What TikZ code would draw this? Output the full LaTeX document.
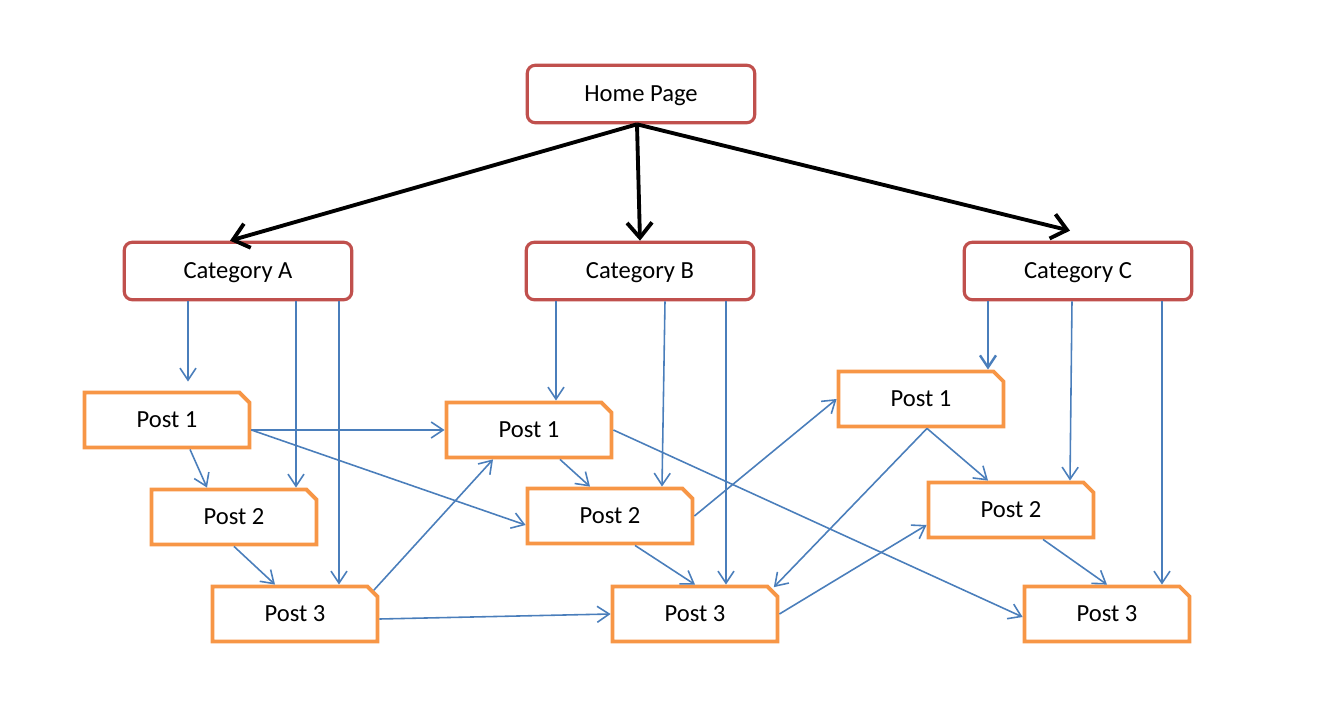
\documentclass[tikz,border=0pt]{standalone}
\usepackage{fontspec}
\setmainfont{Carlito}
\usetikzlibrary{shapes.misc,arrows.meta,calc}

\definecolor{pagered}{HTML}{C0504D}
\definecolor{postorange}{HTML}{F79646}
\definecolor{linkblue}{HTML}{4A7EBB}

\begin{document}
\begin{tikzpicture}[x=0.02cm,y=-0.02cm,
        pagebox/.style={draw=pagered, line width=1.8pt, rounded corners=0.16cm, fill=white,
            minimum width=4.55cm, minimum height=1.15cm, text height=9pt, text depth=0pt,
            font=\fontsize{14}{17}\selectfont},
        postbox/.style={chamfered rectangle, chamfered rectangle corners=north east,
            chamfered rectangle xsep=0.1cm, chamfered rectangle ysep=0.1cm,
            draw=postorange, line width=2.2pt, fill=white, text height=9pt, text depth=0pt,
            minimum width=3.3cm, minimum height=1.1cm, font=\fontsize{14}{17}\selectfont},
        bluearrow/.style={draw=linkblue, line width=0.9pt, -{Straight Barb[length=2.4mm,width=3.2mm]}},
        blackarrow/.style={line width=2.2pt, -{Straight Barb[length=3mm,width=5mm]}}]
        \useasboundingbox (0,0) rectangle (1330,720);
        % Home page and categories
        \node[pagebox] (home) at (641,94) {Home Page};
        \node[pagebox] (catA) at (238,271) {Category A};
        \node[pagebox] (catB) at (640,271) {Category B};
        \node[pagebox] (catC) at (1078,271) {Category C};
        % Posts of each category
        \node[postbox] (a1) at (167,420) {Post 1};
        \node[postbox] (a2) at (234,517) {Post 2};
        \node[postbox] (a3) at (295,614) {Post 3};
        \node[postbox] (b1) at (529,430) {Post 1};
        \node[postbox] (b2) at (610,516) {Post 2};
        \node[postbox] (b3) at (695,614) {Post 3};
        \node[postbox] (c1) at (921,399) {Post 1};
        \node[postbox] (c2) at (1011,510) {Post 2};
        \node[postbox] (c3) at (1107,614) {Post 3};
        % Home page to categories
        \draw[blackarrow] ($(home.south)+(-4,0)$) -- ($(catA.north)+(-8,0)$);
        \draw[blackarrow] ($(home.south)+(-4,0)$) -- (catB.north);
        \draw[blackarrow] ($(home.south)+(-4,0)$) -- ($(catC.north)+(-8,-10)$);
        % Categories to posts
        \draw[bluearrow] ($(catA.south)+(-50,0)$) -- ($(a1.north)+(21,-9)$);
        \draw[bluearrow] ($(catA.south)+(58,0)$) -- ($(a2.north)+(62,0)$);
        \draw[bluearrow] ($(catA.south)+(101,0)$) -- ($(a3.north)+(44,0)$);
        \draw[bluearrow] ($(catB.south)+(-84,0)$) -- ($(b1.north)+(27,0)$);
        \draw[bluearrow] ($(catB.south)+(25,0)$) -- ($(b2.north)+(52,0)$);
        \draw[bluearrow] ($(catB.south)+(86,0)$) -- ($(b3.north)+(31,0)$);
        \draw[bluearrow, line width=1.4pt] ($(catC.south)+(-90,0)$) -- ($(c1.north)+(67,0)$);
        \draw[bluearrow] ($(catC.south)+(-6,0)$) -- ($(c2.north)+(59,0)$);
        \draw[bluearrow] ($(catC.south)+(84,0)$) -- ($(c3.north)+(55,0)$);
        % Links between posts
        \draw[bluearrow] ($(a1.east)+(0,10)$) -- (b1.west);
        \draw[bluearrow] ($(a1.east)+(0,10)$) -- ($(b2.west)+(0,9)$);
        \draw[bluearrow] ($(a1.south)+(23,0)$) -- ($(a2.north)+(-27,0)$);
        \draw[bluearrow] (a2.south) -- ($(a3.north)+(-20,0)$);
        \draw[bluearrow] ($(a3.east)+(0,5)$) -- (b3.west);
        \draw[bluearrow] (a3.north east) -- ($(b1.south)+(-36,0)$);
        \draw[bluearrow] ($(b1.south)+(31,0)$) -- ($(b2.north)+(-20,0)$);
        \draw[bluearrow] (b1.east) -- ($(c3.west)+(0,3)$);
        \draw[bluearrow] (b2.east) -- (c1.west);
        \draw[bluearrow] ($(b2.south)+(25,0)$) -- (b3.north);
        \draw[bluearrow] ($(c1.south)+(6,0)$) -- ($(b3.north east)+(0,-3)$);
        \draw[bluearrow] ($(c1.south)+(6,0)$) -- ($(c2.north)+(-23,0)$);
        \draw[bluearrow] (b3.east) -- ($(c2.west)+(0,15)$);
        \draw[bluearrow] ($(c2.south)+(32,0)$) -- (c3.north);
    \end{tikzpicture}
\end{document}
